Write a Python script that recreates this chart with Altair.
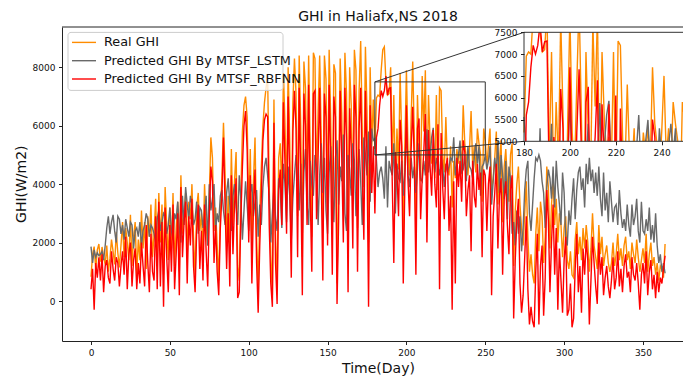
import altair as alt
import pandas as pd

# ---- daily GHI values, 2018 (day 0 .. 364) ----
real_ghi = [
    830, 1600, 1860, 1100, 1750, 1950, 1350, 1850, 1500, 1250,
    1900, 1000, 1450, 2100, 1700, 1250, 2350, 1650, 1150, 1900,
    2700, 1500, 2500, 2000, 1400, 2950, 1200, 2200, 2700, 900,
    2100, 1400, 3100, 1800, 2700, 1100, 2900, 2200, 3300, 1500,
    2300, 3500, 1300, 3700, 2000, 3300, 900, 3900, 2600, 1400,
    3200, 1800, 3700, 1200, 2500, 3400, 1000, 4300, 2300, 3000,
    3700, 1500, 3400, 2800, 4000, 2200, 900, 3200, 3700, 2400,
    3000, 1600, 4000, 2600, 1900, 3600, 5600, 4900, 2400, 3200,
    1900, 700, 3100, 4200, 6100, 4400, 2000, 3600, 1700, 5200,
    2600, 4100, 5100, 1200, 700, 3700, 5800, 6700, 7000, 6300,
    3000, 5200, 1700, 4100, 5600, 2200, 400, 3000, 4600, 6000,
    6800, 7300, 7700, 3900, 1600, 200, 6900, 2300, 400, 4900,
    5400, 3700, 7800, 6100, 3500, 8000, 5500, 2100, 6800, 8300,
    7100, 2900, 8400, 6000, 1500, 8200, 7300, 3800, 8400, 5100,
    2200, 8500, 8300, 4100, 6500, 8400, 5600, 2400, 8400, 7600,
    3200, 8600, 6200, 2700, 8100, 7800, 600, 4000, 8300, 6400,
    3300, 8500, 7100, 1800, 8000, 6700, 3400, 8600, 7900, 2500,
    7200, 8900, 5800, 3900, 8700, 6500, 2000, 8000, 5300, 6900,
    5200, 6950, 7050, 7000, 7900, 8600, 8700, 7500, 7050, 7100,
    8000, 4600, 7050, 3800, 5900, 4500, 7800, 5600, 2100, 5300,
    7900, 5200, 4300, 6300, 8200, 5600, 2600, 7050, 5200, 4100,
    7700, 5800, 7900, 3600, 7050, 5500, 4700, 5100, 4200, 7050,
    3800, 7300, 7200, 5000, 4400, 6300, 4600, 4300, 5300, 3200,
    4800, 4200, 5200, 4700, 5300, 4500, 6700, 5400, 4900, 4300,
    5200, 6500, 4600, 5300, 4400, 5900, 5400, 5000, 3400, 5900,
    5500, 4600, 5300, 5900, 3800, 4200, 4900, 5800, 3300, 4800,
    5500, 2700, 4600, 5200, 4100, 3400, 5000, 5400, 1200, 3100,
    4000, 4600, 3300, 2500, 1900, 3000, 4100, 2200, 1000, 1600,
    900, 600, 2300, 3200, 1700, 3400, 2900, 1300, 2200, 4600,
    3900, 1800, 3300, 4200, 2600, 3500, 2000, 3000, 2600, 1500,
    2500, 2900, 1400, 1100, 1700, 900, 800, 2100, 2700, 1600,
    2200, 1400, 2500, 1800, 2600, 2000, 1000, 1800, 3000, 1900,
    1500, 1100, 2600, 1600, 2200, 1200, 1600, 1900, 1300, 1000,
    1300, 2000, 1200, 1600, 2300, 1400, 1800, 1200, 1900, 2200,
    1400, 1700, 1100, 2000, 1600, 1300, 2100, 1500, 1000, 1400,
    1800, 1300, 2300, 1000, 1600, 2000, 1200, 1500, 900, 1300,
    700, 1200, 1100, 800, 1950,
]

lstm_ghi = [
    1860, 1300, 1750, 1500, 1650, 1550, 1600, 1700, 1400, 1900,
    2500, 2900, 2300, 2700, 2950, 2400, 2000, 2900, 2800, 2300,
    2600, 2100, 2800, 2500, 2200, 2700, 2600, 1800, 2400, 2500,
    2200, 2700, 1900, 2400, 2600, 3000, 2800, 2200, 2600, 2500,
    2300, 2000, 2800, 3100, 2400, 2700, 3000, 2900, 2300, 2600,
    3200, 2400, 2100, 3000, 2800, 3400, 2500, 2000, 3600, 2600,
    3900, 3300, 2800, 3600, 3300, 2600, 2800, 3400, 2300, 3200,
    3100, 2500, 3000, 3600, 1900, 4000, 3100, 3500, 4000, 2400,
    3000, 2700, 3600, 3800, 3100, 2600, 3700, 4200, 3300, 2400,
    3600, 4000, 3200, 2600, 4300, 3500, 2100, 3100, 4100, 3300,
    2400, 3700, 4000, 2900, 3400, 3800, 2200, 3300, 2600, 3900,
    4600, 4900, 4300, 3600, 2000, 3000, 3900, 2800, 2400, 4200,
    3800, 2500, 4700, 4000, 2700, 4600, 3600, 2100, 3500, 4300,
    5000, 4200, 3100, 4700, 2300, 4400, 5200, 3300, 2600, 4800,
    4000, 3600, 5000, 4600, 2600, 4300, 5400, 3700, 4900, 3100,
    2300, 4400, 5300, 3800, 2700, 4900, 5500, 3300, 4600, 4100,
    5700, 3000, 2400, 5000, 4500, 3600, 5400, 4800, 2900, 4300,
    5200, 4100, 2600, 5600, 5000, 4300, 5800, 3400, 5900, 5500,
    5560, 4800, 3900, 4400, 4600, 4200, 3500, 5300, 3200, 4800,
    4500, 4300, 5400, 3000, 4700, 4200, 4100, 4800, 3600, 4500,
    5950, 4300, 3900, 4900, 4200, 4600, 3700, 4500, 5400, 4200,
    4100, 4800, 4300, 5880, 4400, 4900, 5600, 5930, 4400, 4900,
    4600, 4300, 5000, 4600, 3900, 4700, 4400, 4600, 4900, 4800,
    5600, 4300, 4700, 5000, 5490, 4400, 4500, 5000, 4100, 5300,
    4600, 4500, 4200, 4900, 5400, 4700, 5300, 3600, 4600, 4700,
    5000, 4500, 4800, 5300, 3300, 4100, 4900, 4400, 5500, 3700,
    5000, 4300, 3500, 4800, 2800, 4600, 4200, 2300, 2700, 1900,
    3100, 2300, 2900, 1700, 2500, 3800, 4500, 4800, 3000, 2400,
    3300, 4200, 4900, 4800, 5000, 4800, 4100, 3700, 2500, 3900,
    4500, 4200, 3500, 4600, 3200, 4800, 3900, 3300, 2600, 4400,
    3700, 2100, 1900, 3100, 2600, 3500, 4200, 2800, 3800, 4400,
    4600, 3800, 4200, 3200, 4700, 4000, 4900, 4100, 4500, 3700,
    4400, 3600, 4600, 3500, 2900, 4400, 3100, 3700, 2700, 4100,
    3400, 2700, 3200, 3300, 2600, 3800, 3000, 2500, 2800, 2400,
    3300, 2600, 2200, 3300, 2600, 2900, 3500, 2400, 2000, 3400,
    2400, 2300, 2800, 2400, 3200, 2100, 2600, 2000, 3000, 1900,
    1300, 1600, 1000, 1300, 950,
]

rbfnn_ghi = [
    400, 1100, -300, 1300, 800, 1500, 700, 1600, 300, 1200,
    1400, 800, 600, 1700, 1100, 700, 1500, 1300, 500, 1200,
    1700, 900, 2200, 400, 1600, 2000, 500, 1400, 1800, 400,
    1300, 600, 2000, 1200, 500, 2600, 1300, 300, 2300, 1000,
    700, 2900, 400, 3400, 500, 2700, -200, 3200, 1500, 300,
    2600, 1000, 3300, 400, 1600, 3000, 200, 3900, 1500, 2700,
    3400, 600, 2900, 1900, 3500, 1200, 300, 2400, 3300, 1100,
    2400, 700, 3300, 1700, 500, 2900, 4600, 4100, 1300, 2600,
    1000, 200, 2500, 3600, 5600, 3300, 1100, 3000, 500, 4300,
    1600, 3300, 4200, 100, 300, 2800, 4600, 6000, 6500, 5200,
    2000, 4300, 600, 3300, 4500, 1300, -400, 1900, 3600, 5500,
    6200, 6400, 6300, 2600, 600, -200, 6100, 1300, -100, 3900,
    4500, 2600, 6800, 4700, 2300, 7000, 4100, 800, 5800, 7200,
    5900, 1500, 7300, 4300, 200, 7100, 6000, 2600, 7400, 3600,
    1000, 7100, 7200, 2800, 5000, 7300, 4200, 700, 7100, 6300,
    1900, 7400, 4800, 900, 7000, 6300, -100, 2700, 7200, 4900,
    2000, 7300, 5600, 300, 6600, 5200, 1800, 7400, 6300, 1000,
    5900, 7300, 4400, 2100, 7200, 4900, -200, 6700, 3700, 5300,
    3000, 5600, 5900, 6700, 7200, 7000, 7200, 7700, 7050, 7280,
    7300, 4100, 1300, 5100, 4400, 2900, 6200, 5300, 600, 4000,
    6700, 4100, 2900, 5200, 6650, 4800, 900, 5900, 6250, 2800,
    4200, 5100, 6400, 2000, 5850, 4600, 3600, 5850, 4000, 3200,
    6050, 400, 5750, 3900, 2800, 4600, 4900, 2400, 3600, -300,
    4100, 600, 4900, 3900, 4800, 3400, 5500, 5100, 2900, 3800,
    4300, 1700, 4800, 3600, 3200, 4700, 3800, 4400, 1500, 4500,
    4300, 2400, 4000, 4600, 200, 2900, 3700, 4700, 1800, 3600,
    4200, 900, 3500, 4100, 2600, 1600, 3800, 4300, -600, 1400,
    2800, 3500, 600, -400, 200, 1500, 2900, 400, -800, -200,
    -700, -900, 1000, 2300, -800, 1200, 1900, -500, 800, 3800,
    2800, 300, 2000, 3300, 900, 2500, -300, 1800, 700, -400,
    1400, 2200, -500, -300, 600, -900, -600, 1100, 2300, 300,
    1200, -400, 1800, 900, 2100, 1400, -800, 700, 2200, 1300,
    500, -100, 2000, 900, 1500, 200, 800, 1200, 500, 100,
    700, 1500, 400, 800, 1700, 500, 1100, 300, 1200, 1600,
    800, 1000, 300, 1500, 900, 700, 1300, 600, -300, 900,
    1300, 600, 1700, 200, 1000, 1400, 400, 900, 100, 1000,
    300, 800, 600, 1100, 1550,
]

SERIES = ["Real GHI", "Predicted GHI By MTSF_LSTM", "Predicted GHI By MTSF_RBFNN"]
COLORS = ["#ff8c00", "#696969", "#ff0000"]
VALUES = [real_ghi, lstm_ghi, rbfnn_ghi]
for v in VALUES:
    assert len(v) == 365, len(v)
DAYS = list(range(365))

# zoom window shown in the inset
ZOOM_DAYS = [180, 250]
ZOOM_GHI = [5000, 7500]

# ---- geometry of the plot area and scales ----
W, H = 621, 314
X_DOMAIN = [-18.39, 375.37]
Y_DOMAIN = [-1369, 9379]
INSET_X = [462, 622.65]
INSET_Y = [114.3, 5.3]
FONT = "DejaVu Sans"
INK = "#222222"


def main_px(d):
    return (d - X_DOMAIN[0]) / (X_DOMAIN[1] - X_DOMAIN[0]) * W


def main_py(v):
    return H - (v - Y_DOMAIN[0]) / (Y_DOMAIN[1] - Y_DOMAIN[0]) * H


def inset_px(d):
    return INSET_X[0] + (d - ZOOM_DAYS[0]) / (ZOOM_DAYS[1] - ZOOM_DAYS[0]) * (INSET_X[1] - INSET_X[0])


def inset_py(v):
    return INSET_Y[0] + (v - ZOOM_GHI[0]) / (ZOOM_GHI[1] - ZOOM_GHI[0]) * (INSET_Y[1] - INSET_Y[0])


one_row = pd.DataFrame({"k": [0]})

# ---- main panel ----
x_main = alt.Scale(domain=X_DOMAIN, nice=False, zero=False)
y_main = alt.Scale(domain=Y_DOMAIN, nice=False, zero=False)
x_axis = alt.Axis(
    values=[0, 50, 100, 150, 200, 250, 300, 350], format="d", grid=False,
    domainColor=INK, tickColor=INK, tickSize=3.5, labelPadding=3.5,
    labelFontSize=9, labelColor="#111111", labelFlush=False, labelOverlap=False,
    title="Time(Day)", titleFontSize=14, titleFontWeight="normal", titleColor="#111111",
    titleX=316, titleY=31.5, titleAlign="center", titleBaseline="alphabetic",
    orient="bottom", zindex=1,
)
y_axis = alt.Axis(
    values=[0, 2000, 4000, 6000, 8000], format="d", grid=False,
    domainColor=INK, tickColor=INK, tickSize=3.5, labelPadding=3.5,
    labelFontSize=9, labelColor="#111111", labelFlush=False, labelOverlap=False,
    title="GHI(W/m2)", titleFontSize=14, titleFontWeight="normal", titleColor="#111111",
    titleX=-36.8, titleY=156.7, titleAngle=270, titleAlign="center",
    titleBaseline="alphabetic", orient="left", zindex=1,
)

main_layers = []
for name, color, vals in zip(SERIES, COLORS, VALUES):
    df = pd.DataFrame({"day": DAYS, "ghi": vals})
    main_layers.append(
        alt.Chart(df).mark_line(color=color, strokeWidth=1.4, clip=True).encode(
            x=alt.X("day:Q", scale=x_main, axis=x_axis),
            y=alt.Y("ghi:Q", scale=y_main, axis=y_axis),
        )
    )

zoom_box = pd.DataFrame({"x0": [ZOOM_DAYS[0]], "x1": [ZOOM_DAYS[1]],
                         "y0": [ZOOM_GHI[0]], "y1": [ZOOM_GHI[1]]})
main_layers.append(
    alt.Chart(zoom_box).mark_rect(filled=False, stroke="#333333", strokeWidth=1).encode(
        x=alt.X("x0:Q", scale=x_main, axis=x_axis), x2="x1",
        y=alt.Y("y0:Q", scale=y_main, axis=y_axis), y2="y1",
    )
)
main_panel = alt.layer(*main_layers)

# top spine of the main panel
top_spine = alt.Chart(one_row).mark_rule(color=INK, strokeWidth=1).encode(
    x=alt.value(0), x2=alt.value(W), y=alt.value(0)
)

# connectors from the zoom box to the inset
connectors = []
for g in ZOOM_GHI:
    connectors.append(
        alt.Chart(one_row).mark_rule(color="#333333", strokeWidth=1).encode(
            x=alt.value(main_px(ZOOM_DAYS[0])), y=alt.value(main_py(g)),
            x2=alt.value(inset_px(ZOOM_DAYS[0])), y2=alt.value(inset_py(g)),
        )
    )


# ---- inset: each series clipped to the zoom window ----
def clip_pieces(days, vals, lo, hi):
    pieces, cur = [], []
    for i in range(len(days) - 1):
        x0, y0, x1, y1 = days[i], vals[i], days[i + 1], vals[i + 1]
        if y0 == y1:
            ta, tb = (0.0, 1.0) if lo <= y0 <= hi else (1.0, 0.0)
        else:
            t1 = (lo - y0) / (y1 - y0)
            t2 = (hi - y0) / (y1 - y0)
            ta, tb = max(0.0, min(t1, t2)), min(1.0, max(t1, t2))
        if ta > tb:
            if cur:
                pieces.append(cur)
                cur = []
            continue
        pa = (x0 + ta * (x1 - x0), y0 + ta * (y1 - y0))
        pb = (x0 + tb * (x1 - x0), y0 + tb * (y1 - y0))
        if cur and ta == 0.0:
            cur.append(pb)
        else:
            if cur:
                pieces.append(cur)
            cur = [pa, pb]
        if tb < 1.0:
            pieces.append(cur)
            cur = []
    if cur:
        pieces.append(cur)
    return pieces


x_in = alt.Scale(domain=ZOOM_DAYS, range=INSET_X, nice=False, zero=False)
y_in = alt.Scale(domain=ZOOM_GHI, range=INSET_Y, nice=False, zero=False)
x_in_axis = alt.Axis(
    values=[180, 200, 220, 240], format="d", grid=False, domain=False,
    tickColor=INK, tickSize=3.5, labelPadding=3.5, labelFontSize=9,
    labelColor="#111111", labelFlush=False, labelOverlap=False, title=None,
    orient="bottom", offset=-(H - INSET_Y[0]), zindex=1,
)
y_in_axis = alt.Axis(
    values=[5000, 5500, 6000, 6500, 7000, 7500], format="d", grid=False, domain=False,
    tickColor=INK, tickSize=3.5, labelPadding=3.5, labelFontSize=9,
    labelColor="#111111", labelFlush=False, labelOverlap=False, title=None,
    orient="left", offset=-INSET_X[0], zindex=1,
)

inset_layers = [
    alt.Chart(zoom_box).mark_rect(fill="white", stroke=None).encode(
        x=alt.X("x0:Q", scale=x_in, axis=x_in_axis), x2="x1",
        y=alt.Y("y0:Q", scale=y_in, axis=y_in_axis), y2="y1",
    )
]
zoom_days = list(range(ZOOM_DAYS[0], ZOOM_DAYS[1] + 1))
for name, color, vals in zip(SERIES, COLORS, VALUES):
    rows = []
    sub = vals[ZOOM_DAYS[0]:ZOOM_DAYS[1] + 1]
    for p, piece in enumerate(clip_pieces(zoom_days, sub, ZOOM_GHI[0], ZOOM_GHI[1])):
        for k, (x, y) in enumerate(piece):
            rows.append({"piece": p, "k": k, "day": x, "ghi": y})
    inset_layers.append(
        alt.Chart(pd.DataFrame(rows)).mark_line(color=color, strokeWidth=1.4).encode(
            x=alt.X("day:Q", scale=x_in, axis=x_in_axis),
            y=alt.Y("ghi:Q", scale=y_in, axis=y_in_axis),
            detail="piece:N",
            order="k:Q",
        )
    )
inset_layers.append(
    alt.Chart(zoom_box).mark_rect(filled=False, stroke="#333333", strokeWidth=1).encode(
        x=alt.X("x0:Q", scale=x_in, axis=x_in_axis), x2="x1",
        y=alt.Y("y0:Q", scale=y_in, axis=y_in_axis), y2="y1",
    )
)
inset_panel = alt.layer(*inset_layers)

# ---- legend ----
legend_df = pd.DataFrame({"series": SERIES})
legend_y = alt.Scale(type="point", domain=SERIES, range=[15.4, 52.0], padding=0)
legend_color = alt.Scale(domain=SERIES, range=COLORS)
legend_box = alt.Chart(one_row).mark_rect(
    fill="white", fillOpacity=0.8, stroke="#cccccc", strokeWidth=1, cornerRadius=3
).encode(x=alt.value(6), x2=alt.value(221), y=alt.value(5.4), y2=alt.value(63.4))
legend_lines = alt.Chart(legend_df).mark_rule(strokeWidth=1.4).encode(
    x=alt.value(10), x2=alt.value(34),
    y=alt.Y("series:N", scale=legend_y, axis=None),
    color=alt.Color("series:N", scale=legend_color, legend=None),
)
legend_text = alt.Chart(legend_df).mark_text(
    align="left", baseline="middle", fontSize=12.8, font=FONT, color="#111111"
).encode(
    x=alt.value(42),
    y=alt.Y("series:N", scale=legend_y, axis=None),
    text="series:N",
)
legend = alt.layer(legend_box, legend_lines, legend_text)

title = alt.Chart(one_row).mark_text(
    text="GHI in Haliafx,NS 2018", align="center", baseline="alphabetic",
    fontSize=14, font=FONT, color="#111111",
).encode(x=alt.value(316), y=alt.value(-5.6))

chart = alt.layer(
    main_panel, top_spine, *connectors, inset_panel, legend, title
).resolve_scale(
    x="independent", y="independent", color="independent"
).properties(
    width=W, height=H,
    autosize=alt.AutoSizeParams(type="none"),
    padding={"left": 62, "top": 27, "right": 0, "bottom": 38},
).configure(font=FONT).configure_view(stroke=None)

chart.save("out.html", embed_options={"renderer": "svg", "actions": False})
